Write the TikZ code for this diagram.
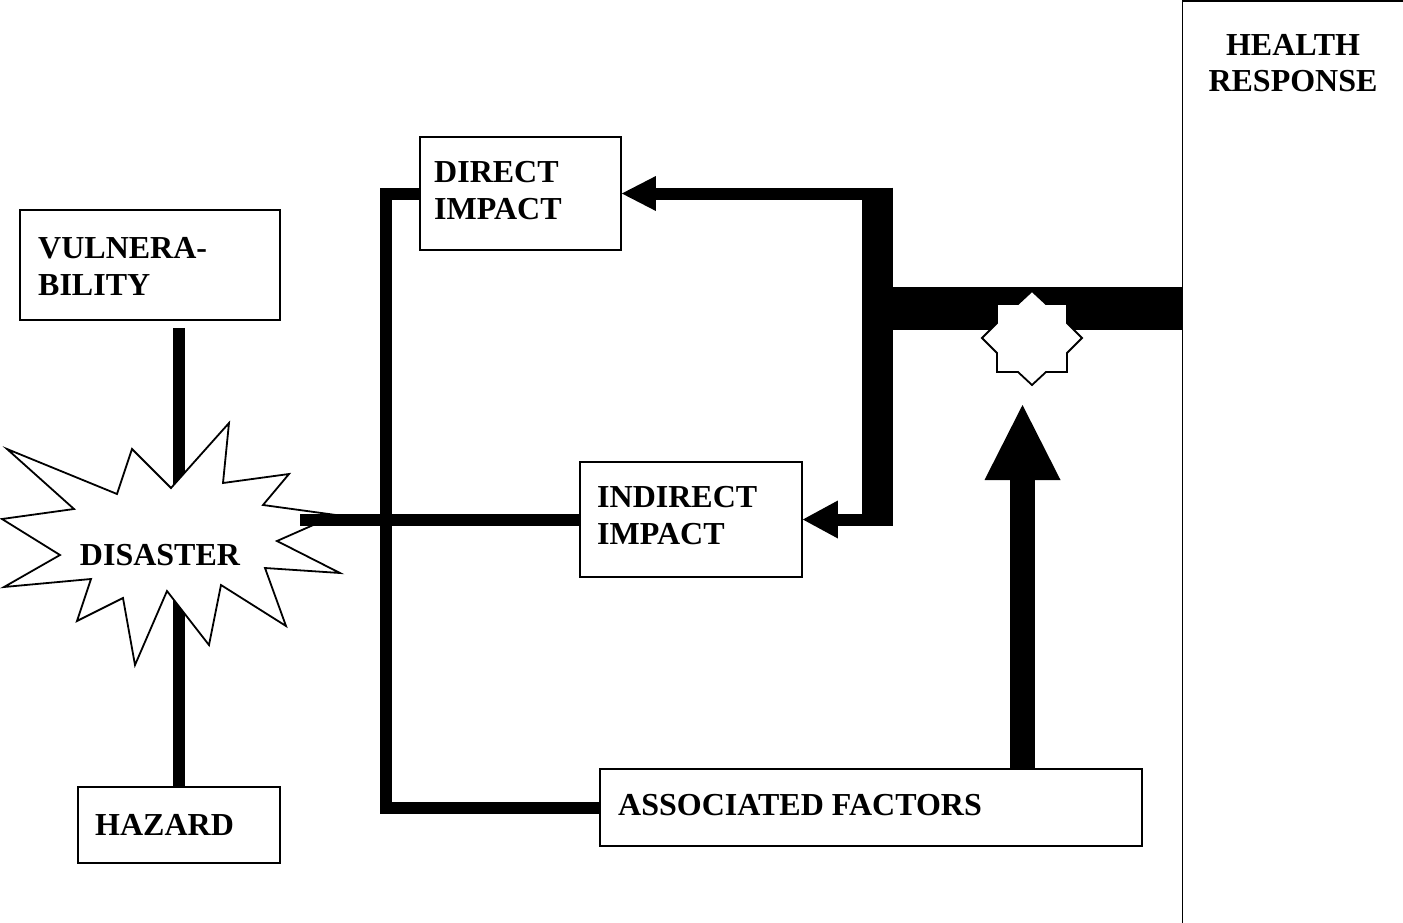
\documentclass[tikz,border=0pt]{standalone}
\usepackage{fontspec}
\setmainfont{Liberation Serif}
\usetikzlibrary{calc}
\begin{document}
\begin{tikzpicture}[x=1pt,y=-1pt,
  box/.style={draw, line width=1.8pt, inner sep=0pt, fill=white},
  lbl/.style={inner sep=0pt, font=\fontsize{32}{36.8}\selectfont\bfseries, align=left},
  bar/.style={line width=12pt, line cap=butt},
  thin/.style={line width=1.8pt, line join=miter, fill=white},
]
\useasboundingbox (0,0) rectangle (1403,923);
\fill[white] (0,0) rectangle (1403,923);

% boxes
\node[box, minimum width=260pt, minimum height=110pt] (vul) at (150,265) {};
\node[box, minimum width=202pt, minimum height=76pt] (haz) at (179,825) {};
\node[box, minimum width=201pt, minimum height=113pt] (dir) at (520.5,193.5) {};
\node[box, minimum width=222pt, minimum height=115pt] (ind) at (691,519.5) {};
\node[box, minimum width=542pt, minimum height=77pt] (assoc) at (871,807.5) {};
\node[box, minimum width=280pt, minimum height=980pt] (health) at (1322.5,491) {};

% vulnerability -- hazard link, passing behind the burst
\draw[bar] ($(vul.south -| haz.north)+(0,7)$) -- (haz.north);

% disaster burst
\draw[thin] (7,449) -- (117,494) -- (132,449) -- (171,488) -- (229,423) -- (223,483)
  -- (289,474) -- (263,505) -- (336,515) -- (277,541) -- (340,573) -- (265,568)
  -- (286,626) -- (221,585) -- (209,645) -- (167,591) -- (135,665) -- (123,598)
  -- (77,621) -- (91,579) -- (4,587) -- (60,555) -- (2,519) -- (74,509) -- cycle;
\node[lbl] (dis) at (160,555) {DISASTER};

% disaster -- indirect impact
\coordinate (dend) at (300,519.5);
\draw[bar] (dend) -- (ind.west);

% loop from direct impact to associated factors
\draw[bar, line join=miter] (dir.west) -- ++(-33,0) |- (assoc.west);

% hub feeding both impacts from the health response
\coordinate (jt) at (877.5,193.5);
\coordinate (jb) at (877.5,519.5);
\coordinate (jh) at (862,308.3);
\draw[line width=31pt] ($(jt)+(0,-6)$) -- ($(jb)+(0,6)$);
\draw[line width=43.3pt] (jh) -- (jh -| health.west);

\draw[bar] (jt) -- ($(dir.east)+(33,0)$);
\fill (dir.east) -- ++(34,-17.5) -- ++(0,35) -- cycle;
\draw[bar] (jb) -- ($(ind.east)+(34,0)$);
\fill (ind.east) -- ++(35,-19) -- ++(0,38) -- cycle;

% associated factors pushing up
\coordinate (tip) at (1022.5,405);
\draw[line width=25pt] (assoc.north -| tip) -- ($(tip)+(0,74)$);
\fill (tip) -- ++(38,75) -- ++(-76,0) -- cycle;

% eight-point star on the response bar
\draw[thin] (1032,291) -- (1046,304) -- (1067,304) -- (1067,323) -- (1082,338)
  -- (1067,353) -- (1067,372) -- (1046,372) -- (1032,385) -- (1018,372)
  -- (997,372) -- (997,353) -- (982,338) -- (997,323) -- (997,304)
  -- (1018,304) -- cycle;

% labels
\node[lbl, anchor=north west] (tvul) at (38,237.2) {VULNERA-\\BILITY};
\node[lbl, anchor=north west] (thaz) at (95,814.2) {HAZARD};
\node[lbl, anchor=north west] (tdir) at (434,161.4) {DIRECT\\IMPACT};
\node[lbl, anchor=north west] (tind) at (597,486.2) {INDIRECT\\IMPACT};
\node[lbl, anchor=north west] (tass) at (618,794.2) {ASSOCIATED FACTORS};
\node[lbl, align=center, anchor=north] (thr) at (1293,33.7) {HEALTH\\RESPONSE};
\end{tikzpicture}
\end{document}
